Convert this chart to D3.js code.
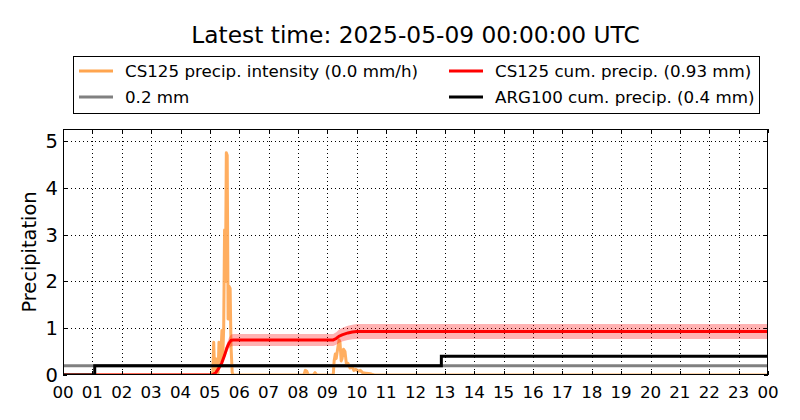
<!DOCTYPE html>
<html><head><meta charset="utf-8">
<script src="https://cdn.jsdelivr.net/npm/d3@7"></script>
<style>
body{margin:0;background:#fff;}
text{font-family:"DejaVu Sans",sans-serif;fill:#000;}
</style></head>
<body><svg id="c" width="800" height="420"></svg>
<script>
// ---- data ----
const titleText = "Latest time: 2025-05-09 00:00:00 UTC";
const yLabel = "Precipitation";
const xTickHours = [0,1,2,3,4,5,6,7,8,9,10,11,12,13,14,15,16,17,18,19,20,21,22,23,24];
const xTickLabels = ["00","01","02","03","04","05","06","07","08","09","10","11","12","13","14","15","16","17","18","19","20","21","22","23","00"];
const yTicks = [0,1,2,3,4,5];
const yMax = 5.26;

// CS125 precipitation intensity (hour of day, mm/h)
const intensityHours = [0,5.05,5.1,5.13,5.16,5.2,5.24,5.28,5.31,5.34,5.37,5.41,5.44,5.47,5.5,5.53,5.56,5.59,5.62,5.65,5.69,5.72,5.76,5.8,
  8.2,8.25,8.3,8.35,8.52,8.58,8.64,
  9.2,9.23,9.27,9.3,9.36,9.4,9.43,9.47,9.5,9.55,9.6,9.65,9.7,9.77,9.84,9.9,9.97,10.05,10.12,10.2,10.3,10.4,10.5,10.6,24];
const intensityValues = [0,0,0.05,0.7,0.1,0.35,0.3,0.05,0.7,0.3,0.35,0.95,0.4,1.0,3.1,2.0,4.75,4.7,1.2,1.9,1.85,0.6,0.05,0,
  0,0.1,0.08,0,0,0.05,0,
  0,0.3,0.45,0.35,0.6,0.75,0.7,0.3,0.35,0.55,0.5,0.22,0.25,0.15,0.18,0.1,0.12,0.08,0.1,0.05,0.04,0.03,0.02,0,0];

// CS125 cumulative precipitation (mm)
const cumHours = [0,5.08,5.2,5.3,5.4,5.5,5.58,5.65,5.72,5.8,9.2,9.3,9.4,9.5,9.6,9.7,9.85,10.0,24];
const cumValues = [0,0,0.05,0.14,0.25,0.42,0.58,0.68,0.74,0.75,0.75,0.78,0.83,0.86,0.88,0.9,0.92,0.93,0.93];
const cumUncertainty = 0.17; // relative band half-width

// ARG100 cumulative precipitation (mm), step after
const argHours = [0,1.08,12.88,24];
const argValues = [0,0.2,0.4,0.4];

const thresholdValue = 0.2;

const legendLabels = ["CS125 precip. intensity (0.0 mm/h)","0.2 mm","CS125 cum. precip. (0.93 mm)","ARG100 cum. precip. (0.4 mm)"];
const colors = {intensity:"#ffa54f", threshold:"#808080", cum:"#ff0000", arg:"#000000"};

// ---- layout ----
const svg = d3.select("#c");
const L=63, R=768, T=129, B=375;
const x = d3.scaleLinear().domain([0,24]).range([L,R]);
const y = d3.scaleLinear().domain([0,yMax]).range([B,T]);

svg.append("text").attr("x",415.5).attr("y",43).attr("text-anchor","middle")
  .style("font-size","23.3px").text(titleText);

svg.append("defs").append("clipPath").attr("id","clip")
  .append("rect").attr("x",L).attr("y",T).attr("width",R-L).attr("height",B-T);

// grid
const grid = svg.append("g").attr("stroke","#000").attr("stroke-width",1).attr("stroke-dasharray","1,3");
grid.selectAll("line.v").data(xTickHours.slice(1,-1)).enter().append("line")
  .attr("x1",d=>Math.round(x(d))+0.5).attr("x2",d=>Math.round(x(d))+0.5).attr("y1",T).attr("y2",B);
grid.selectAll("line.h").data(yTicks.slice(1)).enter().append("line")
  .attr("y1",d=>Math.round(y(d))+0.5).attr("y2",d=>Math.round(y(d))+0.5).attr("x1",L).attr("x2",R);

const plot = svg.append("g").attr("clip-path","url(#clip)");

// threshold line
plot.append("line").attr("x1",x(0)).attr("x2",x(24)).attr("y1",y(thresholdValue)).attr("y2",y(thresholdValue))
  .attr("stroke",colors.threshold).attr("stroke-width",3);

// intensity
const intensity = intensityHours.map((h,i)=>[h,intensityValues[i]]);
plot.append("path").datum(intensity)
  .attr("d",d3.line().x(d=>x(d[0])).y(d=>y(d[1])))
  .attr("fill","none").attr("stroke",colors.intensity).attr("stroke-width",3).attr("opacity",0.9)
  .attr("stroke-linejoin","round");

// cumulative band + line
const cum = cumHours.map((h,i)=>[h,cumValues[i]]);
plot.append("path").datum(cum)
  .attr("d",d3.area().x(d=>x(d[0])).y0(d=>y(d[1]*(1-cumUncertainty))).y1(d=>y(d[1]*(1+cumUncertainty))))
  .attr("fill",colors.cum).attr("opacity",0.3);
plot.append("path").datum(cum)
  .attr("d",d3.line().x(d=>x(d[0])).y(d=>y(d[1])))
  .attr("fill","none").attr("stroke",colors.cum).attr("stroke-width",3);

// ARG100
const arg = argHours.map((h,i)=>[h,argValues[i]]);
plot.append("path").datum(arg)
  .attr("d",d3.line().curve(d3.curveStepAfter).x(d=>x(d[0])).y(d=>y(d[1])))
  .attr("fill","none").attr("stroke",colors.arg).attr("stroke-width",3);

// frame
svg.append("rect").attr("x",L+0.5).attr("y",T+0.5).attr("width",R-L-1).attr("height",B-T-1)
  .attr("fill","none").attr("stroke","#000").attr("stroke-width",1);

// ticks (inward, all sides)
const tk = svg.append("g").attr("stroke","#000").attr("stroke-width",1);
xTickHours.forEach(h=>{
  const xx=Math.round(x(h))+0.5;
  tk.append("line").attr("x1",xx).attr("x2",xx).attr("y1",B).attr("y2",B-4);
  tk.append("line").attr("x1",xx).attr("x2",xx).attr("y1",T).attr("y2",T+4);
});
yTicks.forEach(v=>{
  const yy=Math.round(y(v))+0.5;
  tk.append("line").attr("x1",L).attr("x2",L+4).attr("y1",yy).attr("y2",yy);
  tk.append("line").attr("x1",R).attr("x2",R-4).attr("y1",yy).attr("y2",yy);
});

// tick labels
svg.selectAll("text.xt").data(xTickHours).enter().append("text")
  .attr("x",d=>x(d)).attr("y",B+23).attr("text-anchor","middle").style("font-size","16.7px")
  .text((d,i)=>xTickLabels[i]);
svg.selectAll("text.yt").data(yTicks).enter().append("text")
  .attr("x",L-5).attr("y",d=>y(d)).attr("dy","0.35em").attr("text-anchor","end").style("font-size","19.5px")
  .text(d=>d);

svg.append("text").attr("transform",`translate(36,${(T+B)/2}) rotate(-90)`).attr("text-anchor","middle")
  .style("font-size","19.4px").text(yLabel);

// legend
const lg = svg.append("g");
lg.append("rect").attr("x",73.5).attr("y",56.5).attr("width",686).attr("height",57)
  .attr("fill","#fff").attr("stroke","#000").attr("stroke-width",1);
const legendItems = [
  {label:legendLabels[0], color:colors.intensity, lx:79, ly:71},
  {label:legendLabels[1], color:colors.threshold, lx:79, ly:97},
  {label:legendLabels[2], color:colors.cum, lx:449, ly:71},
  {label:legendLabels[3], color:colors.arg, lx:449, ly:97}
];
legendItems.forEach(it=>{
  lg.append("line").attr("x1",it.lx).attr("x2",it.lx+34).attr("y1",it.ly).attr("y2",it.ly)
    .attr("stroke",it.color).attr("stroke-width",3);
  lg.append("text").attr("x",it.lx+46).attr("y",it.ly).attr("dy","0.35em").style("font-size","16.7px").text(it.label);
});
</script></body></html>
